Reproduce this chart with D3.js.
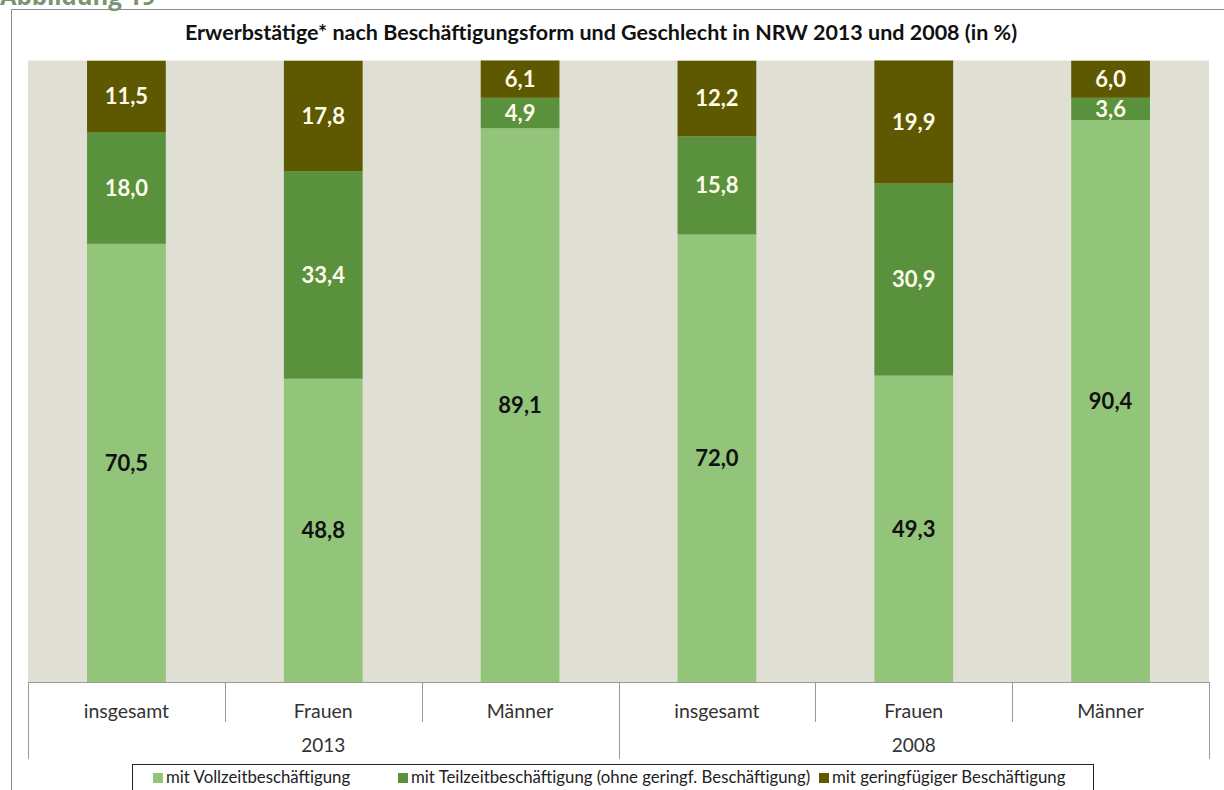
<!DOCTYPE html>
<html>
<head>
<meta charset="utf-8">
<script src="https://cdn.jsdelivr.net/npm/d3@7"></script>
<style>
  body { margin: 0; background: #fff; }
  svg { display: block; font-family: Lato, "Open Sans", sans-serif; }
</style>
</head>
<body>
<svg width="1224" height="790"></svg>
<script>
// Chart data
const years = ["2013", "2008"];
const groups = ["insgesamt", "Frauen", "Männer"];
const seriesNames = [
    "mit Vollzeitbeschäftigung",
    "mit Teilzeitbeschäftigung (ohne geringf. Beschäftigung)",
    "mit geringfügiger Beschäftigung"
];
const vollzeit = [70.5, 48.8, 89.1, 72.0, 49.3, 90.4];
const teilzeit = [18.0, 33.4, 4.9, 15.8, 30.9, 3.6];
const geringf  = [11.5, 17.8, 6.1, 12.2, 19.9, 6.0];

const colors = ["#92c47a", "#5a913d", "#5e5800"];
const labelColors = ["#111", "#fdfbea", "#fdfbea"];

// plot area
const plot = { left: 28, right: 1209, top: 60.5, bottom: 682 };

const svg = d3.select("svg");

// category keys: year|group
const cats = [];
years.forEach(y => groups.forEach(g => cats.push({ year: y, group: g })));
const rows = cats.map((c, i) => ({
    key: c.year + "|" + c.group,
    year: c.year,
    group: c.group,
    s0: vollzeit[i],
    s1: teilzeit[i],
    s2: geringf[i]
}));

const x = d3.scaleBand()
    .domain(rows.map(d => d.key))
    .range([plot.left, plot.right])
    .paddingInner(0.6)
    .paddingOuter(0.3);

const y = d3.scaleLinear()
    .domain([0, 100])
    .range([plot.bottom, plot.top]);

const stack = d3.stack().keys(["s0", "s1", "s2"]);
const stacked = stack(rows);

const fmt = v => d3.format(".1f")(v).replace(".", ",");

// outer frame
svg.append("path")
    .attr("d", "M11.5,790 V9.5 H1224")
    .attr("fill", "none")
    .attr("stroke", "#8c8c8c")
    .attr("stroke-width", 1);

// heading above frame (cut off at the top, as in the source)
svg.append("text")
    .attr("x", 0)
    .attr("y", 5)
    .attr("fill", "#7b9470")
    .style("font-size", "24px")
    .style("font-weight", "bold")
    .style("font-family", "'Open Sans', sans-serif")
    .text("Abbildung 19");

// title
svg.append("text")
    .attr("x", 601)
    .attr("y", 40)
    .attr("text-anchor", "middle")
    .attr("fill", "#111")
    .style("font-size", "21.5px")
    .style("font-weight", "bold")
    .text("Erwerbstätige* nach Beschäftigungsform und Geschlecht in NRW 2013 und 2008 (in %)");

// plot background
svg.append("rect")
    .attr("x", plot.left)
    .attr("y", plot.top)
    .attr("width", plot.right - plot.left)
    .attr("height", plot.bottom - plot.top)
    .attr("fill", "#dfe0d3");

svg.append("clipPath").attr("id", "clip")
    .append("rect")
    .attr("x", plot.left)
    .attr("y", plot.top)
    .attr("width", plot.right - plot.left)
    .attr("height", plot.bottom - plot.top);

// bars
const layers = svg.append("g")
    .attr("clip-path", "url(#clip)")
    .selectAll("g")
    .data(stacked)
    .join("g")
    .attr("fill", (d, i) => colors[i]);

layers.selectAll("rect")
    .data(d => d)
    .join("rect")
    .attr("x", d => x(d.data.key))
    .attr("y", d => y(d[1]))
    .attr("width", x.bandwidth())
    .attr("height", d => y(d[0]) - y(d[1]));

// value labels
stacked.forEach((layer, i) => {
    svg.append("g")
        .selectAll("text")
        .data(layer)
        .join("text")
        .attr("x", d => x(d.data.key) + x.bandwidth() / 2)
        .attr("y", d => (y(d[0]) + y(Math.min(d[1], 100))) / 2)
        .attr("dy", "0.36em")
        .attr("text-anchor", "middle")
        .attr("fill", labelColors[i])
        .style("font-size", "22px")
        .style("font-weight", "bold")
        .text(d => fmt(d.data[layer.key]));
});

// category table below plot
const step = x.step();
const edge = key => x(key) - step * 0.3;
const axis = svg.append("g").attr("stroke", "#999").attr("stroke-width", 1);

axis.append("line")
    .attr("x1", plot.left).attr("x2", plot.right)
    .attr("y1", plot.bottom + 0.5).attr("y2", plot.bottom + 0.5);

axis.selectAll("line.sep")
    .data(rows)
    .join("line")
    .attr("class", "sep")
    .attr("x1", d => Math.round(edge(d.key)) + 0.5)
    .attr("x2", d => Math.round(edge(d.key)) + 0.5)
    .attr("y1", plot.bottom)
    .attr("y2", d => d.group === groups[0] ? 759 : 722);

axis.append("line")
    .attr("x1", plot.right + 0.5).attr("x2", plot.right + 0.5)
    .attr("y1", plot.bottom).attr("y2", 759);

svg.append("g")
    .selectAll("text")
    .data(rows)
    .join("text")
    .attr("x", d => x(d.key) + x.bandwidth() / 2)
    .attr("y", 718)
    .attr("text-anchor", "middle")
    .attr("fill", "#333")
    .style("font-size", "19.5px")
    .text(d => d.group);

svg.append("g")
    .selectAll("text")
    .data(years)
    .join("text")
    .attr("x", yr => {
        const ks = rows.filter(r => r.year === yr).map(r => r.key);
        return (edge(ks[0]) + edge(ks[ks.length - 1]) + step) / 2;
    })
    .attr("y", 752)
    .attr("text-anchor", "middle")
    .attr("fill", "#333")
    .style("font-size", "19px")
    .text(yr => yr);

// legend
const legend = svg.append("g");
legend.append("rect")
    .attr("x", 132.5).attr("y", 764.5)
    .attr("width", 961).attr("height", 40)
    .attr("fill", "#fff")
    .attr("stroke", "#222");

const legendX = [153, 398, 819];
seriesNames.forEach((name, i) => {
    legend.append("rect")
        .attr("x", legendX[i]).attr("y", 773)
        .attr("width", 10).attr("height", 10)
        .attr("fill", colors[i]);
    legend.append("text")
        .attr("x", legendX[i] + 13)
        .attr("y", 783)
        .attr("fill", "#222")
        .style("font-size", "16.8px")
        .text(name);
});
</script>
</body>
</html>
